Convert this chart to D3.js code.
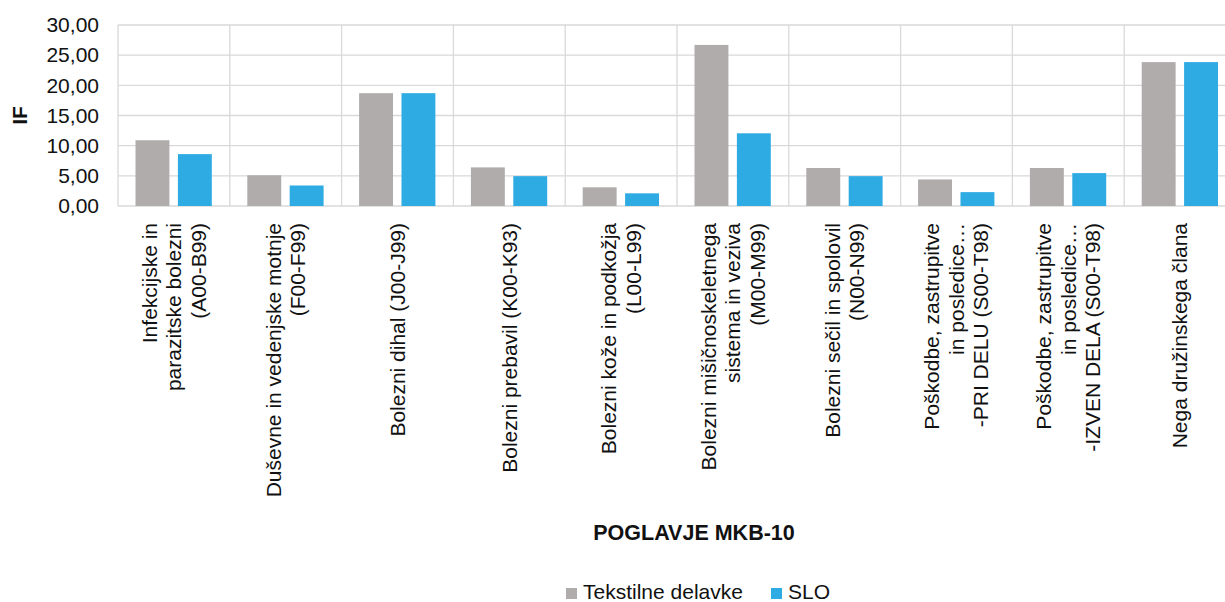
<!DOCTYPE html>
<html>
<head>
<meta charset="utf-8">
<script src="https://cdn.jsdelivr.net/npm/d3@7"></script>
<style>
  html, body { margin: 0; padding: 0; background: #fff; }
  svg { display: block; font-family: "Liberation Sans", Arial, sans-serif; }
</style>
</head>
<body>
<div id="chart"></div>
<script>
// category labels, one array of lines per category
const CATEGORIES = [
    ["Infekcijske in", "parazitske bolezni", "(A00-B99)"],
    ["Duševne in vedenjske motnje", "(F00-F99)"],
    ["Bolezni dihal (J00-J99)"],
    ["Bolezni prebavil (K00-K93)"],
    ["Bolezni kože in podkožja", "(L00-L99)"],
    ["Bolezni mišičnoskeletnega", "sistema in veziva", "(M00-M99)"],
    ["Bolezni sečil in spolovil", "(N00-N99)"],
    ["Poškodbe, zastrupitve", "in posledice…", "-PRI DELU (S00-T98)"],
    ["Poškodbe, zastrupitve", "in posledice…", "-IZVEN DELA (S00-T98)"],
    ["Nega družinskega člana"]
];
const SERIES = ["Tekstilne delavke", "SLO"];
const TEKSTILNE = [10.9, 5.1, 18.7, 6.4, 3.1, 26.7, 6.3, 4.4, 6.3, 23.85];
const SLO = [8.6, 3.4, 18.7, 4.95, 2.1, 12.05, 4.95, 2.3, 5.45, 23.85];
const Y_TICKS = [0, 5, 10, 15, 20, 25, 30];

const COLORS = ["#afacab", "#2eabe2"];

const W = 1225, H = 602;
const margin = { top: 25, left: 118 };
const plotW = 1118, plotH = 181;
const FONT = "21px";

const svg = d3.select("#chart").append("svg")
    .attr("width", W)
    .attr("height", H);

const g = svg.append("g")
    .attr("transform", `translate(${margin.left},${margin.top})`);

const x = d3.scaleBand()
    .domain(d3.range(CATEGORIES.length))
    .range([0, plotW]);

const xInner = d3.scaleBand()
    .domain(SERIES)
    .range([17.5, x.bandwidth() - 18])
    .paddingInner(0.2);

const y = d3.scaleLinear()
    .domain([0, 30])
    .range([plotH, 0]);

// horizontal gridlines
g.selectAll(".hgrid")
    .data(Y_TICKS)
    .enter().append("line")
    .attr("x1", 0)
    .attr("x2", plotW)
    .attr("y1", d => y(d))
    .attr("y2", d => y(d))
    .attr("stroke", "#d9d9d9")
    .attr("stroke-width", 1.3);

// vertical category separators
g.selectAll(".vgrid")
    .data(d3.range(CATEGORIES.length + 1))
    .enter().append("line")
    .attr("x1", d => d * x.step())
    .attr("x2", d => d * x.step())
    .attr("y1", 0)
    .attr("y2", plotH)
    .attr("stroke", "#d9d9d9")
    .attr("stroke-width", 1.3);

// y axis labels
const yAxis = g.append("g")
    .call(d3.axisLeft(y).tickValues(Y_TICKS).tickSize(0).tickPadding(19)
        .tickFormat(d => d3.format(".2f")(d).replace(".", ",")));
yAxis.select(".domain").remove();
yAxis.selectAll("text")
    .style("font-size", FONT)
    .style("font-family", "'Liberation Sans', Arial, sans-serif")
    .attr("fill", "#111");

// bars
const values = [TEKSTILNE, SLO];
SERIES.forEach((s, si) => {
    g.selectAll(".bar-" + si)
        .data(values[si])
        .enter().append("rect")
        .attr("x", (d, i) => x(i) + xInner(s))
        .attr("y", d => y(d))
        .attr("width", xInner.bandwidth())
        .attr("height", d => plotH - y(d))
        .attr("fill", COLORS[si]);
});

// category labels, rotated
const labels = g.selectAll(".cat")
    .data(CATEGORIES)
    .enter().append("text")
    .attr("transform", (d, i) => `translate(${x(i) + x.bandwidth() / 2},${plotH + 17}) rotate(-90)`)
    .attr("text-anchor", "end")
    .style("font-size", FONT)
    .attr("fill", "#111");

labels.each(function(lines) {
    const t = d3.select(this);
    const lh = 24.5;
    const off = -(lines.length - 1) / 2 * lh;
    lines.forEach((ln, k) => {
        t.append("tspan")
            .attr("x", 0)
            .attr("y", off + k * lh)
            .attr("dy", "0.35em")
            .text(ln);
    });
});

// axis titles
svg.append("text")
    .attr("transform", `translate(27,${margin.top + plotH / 2}) rotate(-90)`)
    .attr("text-anchor", "middle")
    .style("font-size", FONT)
    .style("font-weight", "bold")
    .attr("fill", "#111")
    .text("IF");

svg.append("text")
    .attr("x", 694)
    .attr("y", 540)
    .attr("text-anchor", "middle")
    .style("font-size", "21.5px")
    .style("font-weight", "bold")
    .attr("fill", "#111")
    .text("POGLAVJE MKB-10");

// legend
const legendX = [566, 771];
const legend = svg.selectAll(".legend")
    .data(SERIES)
    .enter().append("g")
    .attr("transform", (d, i) => `translate(${legendX[i]},588)`);
legend.append("rect")
    .attr("width", 11)
    .attr("height", 11)
    .attr("fill", (d, i) => COLORS[i]);
legend.append("text")
    .attr("x", 17)
    .attr("y", 11)
    .style("font-size", FONT)
    .attr("fill", "#111")
    .text(d => d);
</script>
</body>
</html>
